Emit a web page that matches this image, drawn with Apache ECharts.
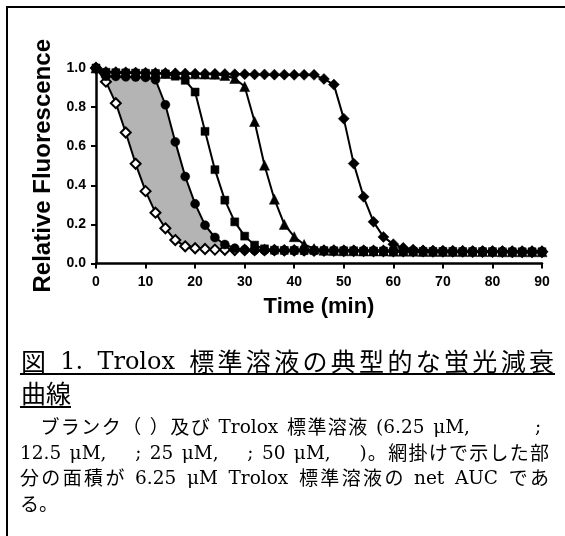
<!DOCTYPE html>
<html><head><meta charset="utf-8">
<script src="https://cdn.jsdelivr.net/npm/echarts@6/dist/echarts.min.js"></script>
<style>html,body{margin:0;padding:0;background:#fff}#c{width:565px;height:536px}</style>
</head><body><div id="c"></div>
<script>
// ---- data (time in minutes, relative fluorescence) ----
const times = [0,2,4,6,8,10,12,14,16,18,20,22,24,26,28,30,32,34,36,38,40,42,44,46,48,50,52,54,56,58,60,62,64,66,68,70,72,74,76,78,80,82,84,86,88,90];
const blank = [1.00,0.93,0.82,0.67,0.51,0.37,0.26,0.18,0.12,0.088,0.078,0.074,0.071,0.070,0.069,0.069,0.068,0.068,0.068,0.067,0.067,0.067,0.066,0.066,0.066,0.065,0.065,0.065,0.064,0.064,0.064,0.063,0.063,0.063,0.062,0.062,0.062,0.062,0.061,0.061,0.061,0.061,0.060,0.060,0.060,0.060];
const trolox625 = [1.00,0.958,0.957,0.955,0.954,0.952,0.940,0.812,0.622,0.445,0.305,0.196,0.133,0.097,0.078,0.070,0.068,0.067,0.067,0.067,0.066,0.066,0.066,0.065,0.065,0.065,0.064,0.064,0.064,0.063,0.063,0.063,0.062,0.062,0.062,0.062,0.061,0.061,0.061,0.061,0.060,0.060,0.060,0.060,0.060,0.060];
const trolox125 = [1.00,0.978,0.976,0.975,0.974,0.973,0.972,0.970,0.958,0.937,0.877,0.676,0.480,0.324,0.213,0.140,0.094,0.075,0.068,0.067,0.067,0.066,0.066,0.066,0.065,0.065,0.065,0.064,0.064,0.064,0.063,0.063,0.063,0.062,0.062,0.062,0.062,0.061,0.061,0.061,0.061,0.060,0.060,0.060,0.060,0.060];
const trolox25 = [1.00,0.978,0.977,0.976,0.975,0.974,0.973,0.972,0.971,0.970,0.970,0.969,0.968,0.962,0.946,0.905,0.726,0.503,0.329,0.200,0.137,0.097,0.076,0.068,0.066,0.065,0.065,0.064,0.064,0.064,0.063,0.063,0.063,0.062,0.062,0.062,0.062,0.061,0.061,0.061,0.061,0.060,0.060,0.060,0.060,0.060];
const trolox50 = [1.00,0.980,0.979,0.978,0.977,0.976,0.975,0.974,0.973,0.972,0.971,0.970,0.970,0.969,0.968,0.968,0.967,0.967,0.966,0.966,0.965,0.965,0.965,0.944,0.915,0.741,0.511,0.341,0.213,0.136,0.099,0.080,0.071,0.067,0.065,0.064,0.063,0.063,0.062,0.062,0.061,0.061,0.061,0.060,0.060,0.060];
const xTickValues = [0,10,20,30,40,50,60,70,80,90];
const yTickLabels = ['0.0','0.2','0.4','0.6','0.8','1.0'];
const xTitle = 'Time (min)';
const yTitle = 'Relative Fluorescence';
// caption text, one entry per printed line
const headingLines = ['図 1. Trolox 標準溶液の典型的な蛍光減衰', '曲線'];
const bodyLine1 = ['　ブランク（ ）及び Trolox 標準溶液 (6.25 μM,', ';'];
const bodyLines = ['12.5 μM,　 ; 25 μM,　 ; 50 μM,　 )。網掛けで示した部',
                   '分の面積が 6.25 μM Trolox 標準溶液の net AUC であ',
                   'る。'];

// ---- helpers ----
const SANS = '"Liberation Sans", Arial, sans-serif';
const LAT = '"DejaVu Serif"';
const CJK = '"Noto Sans CJK JP"';
const mctx = document.createElement('canvas').getContext('2d');
function pairs(vals){ return vals.map((v,i)=>[times[i], v]); }
const latinRe = /^[A-Za-z0-9.,;()μ ]+$/;
function splitUnits(str){ return str.match(/[A-Za-z0-9.,;()μ]+|\s|./gu) || []; }
// text placed from x0; if x1 given, units are spread so the line ends at x1
function piece(str, x0, x1, y, latSize, cjkSize){
  const u = splitUnits(str);
  const fonts = u.map(s => latinRe.test(s) ? {size:latSize, fam:LAT, dy:latSize*0.07} : {size:cjkSize, fam:CJK, dy:0});
  const w = u.map((s,i)=>{ mctx.font = fonts[i].size + 'px ' + fonts[i].fam; return mctx.measureText(s).width; });
  const total = w.reduce((a,b)=>a+b,0);
  const gap = (x1 != null && u.length > 1) ? (x1 - x0 - total) / (u.length - 1) : 0;
  const out = [];
  let x = x0;
  u.forEach((s,i)=>{
    if (s.trim() !== '') {
      out.push({type:'text', silent:true, style:{text:s, x:x, y:y + fonts[i].dy, fontSize:fonts[i].size, fontFamily:fonts[i].fam, fill:'#000', verticalAlign:'middle', align:'left'}});
    }
    x += w[i] + gap;
  });
  return out;
}

const chart = echarts.init(document.getElementById('c'), null, {renderer:'canvas'});

const graphics = [];
const add = arr => arr.forEach(g=>graphics.push(g));
// frame (top and left only)
graphics.push({type:'line', silent:true, shape:{x1:7, y1:7, x2:565, y2:7}, style:{stroke:'#000', lineWidth:2}});
graphics.push({type:'line', silent:true, shape:{x1:7, y1:6, x2:7, y2:536}, style:{stroke:'#000', lineWidth:2}});
// caption heading
add(piece(headingLines[0], 21, 554, 361, 24, 25));
add(piece(headingLines[1], 21, null, 393, 24, 25));
graphics.push({type:'line', silent:true, shape:{x1:20, y1:374, x2:555, y2:374}, style:{stroke:'#000', lineWidth:2}});
graphics.push({type:'line', silent:true, shape:{x1:20, y1:407, x2:71, y2:407}, style:{stroke:'#000', lineWidth:2}});
// caption body
const bY = [427, 452.5, 478, 503.5];
const L = 18.5, K = 19;
add(piece(bodyLine1[0], 20, 470, bY[0], L, K));
add(piece(bodyLine1[1], 535, null, bY[0], L, K));
add(piece(bodyLines[0], 20, 549, bY[1], L, K));
add(piece(bodyLines[1], 20, 549, bY[2], L, K));
add(piece(bodyLines[2], 20, null, bY[3], L, K));

function lineSeries(name, vals, symbol, size, open){
  return {
    name, type:'line', data:pairs(vals), symbol, symbolSize:size,
    showSymbol:true, animation:false, clip:false,
    lineStyle:{color:'#000', width:2},
    itemStyle: open ? {color:'#fff', borderColor:'#000', borderWidth:2} : {color:'#000', borderColor:'#000', borderWidth:0.5}
  };
}

const option = {
  animation:false,
  backgroundColor:'#fff',
  grid:{left:96, top:68, width:446, height:195.5, containLabel:false},
  xAxis:{
    type:'value', min:0, max:90, interval:10,
    name:xTitle, nameLocation:'middle', nameGap:32,
    nameTextStyle:{fontSize:22, fontWeight:'bold', color:'#000', fontFamily:SANS},
    axisLine:{show:true, onZero:false, lineStyle:{color:'#000', width:2.5}},
    axisTick:{show:true, length:5, lineStyle:{color:'#000', width:2}},
    axisLabel:{color:'#000', fontWeight:'bold', fontSize:14, margin:12, fontFamily:SANS,
      formatter:(v)=> xTickValues.indexOf(v) >= 0 ? String(v) : ''},
    splitLine:{show:false}
  },
  yAxis:{
    type:'value', min:0, max:1, interval:0.2,
    name:yTitle, nameLocation:'middle', nameRotate:90, nameGap:40,
    nameTextStyle:{fontSize:24, fontWeight:'bold', color:'#000', fontFamily:SANS},
    axisLine:{show:true, lineStyle:{color:'#000', width:2.5}},
    axisTick:{show:true, length:5, lineStyle:{color:'#000', width:2}},
    axisLabel:{color:'#000', fontWeight:'bold', fontSize:14, margin:10, fontFamily:SANS,
      formatter:(v)=> yTickLabels[Math.round(v/0.2)]},
    splitLine:{show:false}
  },
  series:[
    {
      type:'custom', name:'netAUC', data:[[0,0]], silent:true, animation:false, z:1,
      renderItem:(params, api)=>{
        const pts = [];
        for (let i=0;i<times.length;i++) pts.push(api.coord([times[i], trolox625[i]]));
        for (let i=times.length-1;i>=0;i--) pts.push(api.coord([times[i], blank[i]]));
        return {type:'polygon', shape:{points:pts}, style:{fill:'#b4b4b4', stroke:null}};
      }
    },
    lineSeries('Blank', blank, 'diamond', 10, true),
    lineSeries('6.25 μM', trolox625, 'circle', 9, false),
    lineSeries('12.5 μM', trolox125, 'rect', 8, false),
    lineSeries('25 μM', trolox25, 'triangle', 10, false),
    lineSeries('50 μM', trolox50, 'diamond', 11, false)
  ],
  graphic: graphics
};
chart.setOption(option);
</script>
</body></html>
